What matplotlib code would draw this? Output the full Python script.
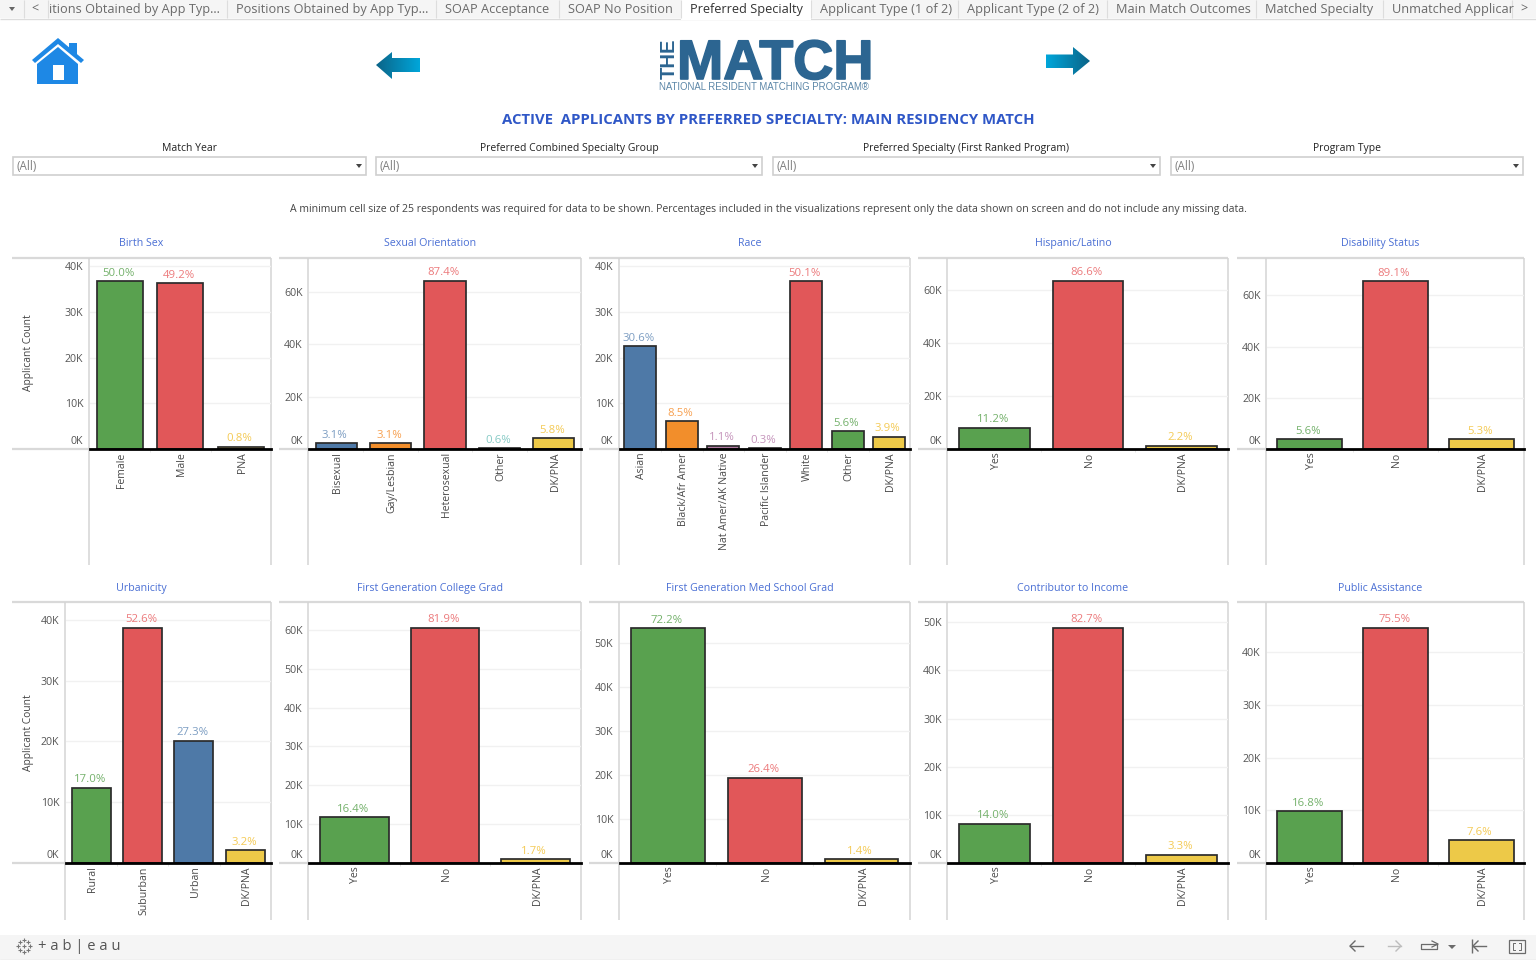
import matplotlib
matplotlib.use("Agg")
import matplotlib.pyplot as plt
import numpy as np
from matplotlib.patches import Polygon, Rectangle
from matplotlib.ticker import FuncFormatter, FixedLocator
from matplotlib.transforms import ScaledTranslation
import matplotlib.patheffects as pe

FONT = "Open Sans"
plt.rcParams["font.family"] = [FONT, "DejaVu Sans"]

W, H = 1536, 960
GREEN, RED, BLUE, ORANGE, YELLOW, PURPLE, TEAL = "#59a14f", "#e15759", "#4e79a7", "#f28e2b", "#edc948", "#b07aa1", "#76b7b2"
LABEL_TINT = {GREEN: "#74b16b", RED: "#ec7a7c", BLUE: "#7c9dc2", ORANGE: "#f7a050",
              YELLOW: "#f4ca55", PURPLE: "#c594bb", TEAL: "#86cac5"}

# ---------- data ----------
birth_cats = ["Female", "Male", "PNA"]
birth_vals = [36700, 36300, 500]
birth_pcts = ["50.0%", "49.2%", "0.8%"]
birth_cols = [GREEN, RED, YELLOW]

orient_cats = ["Bisexual", "Gay/Lesbian", "Heterosexual", "Other", "DK/PNA"]
orient_vals = [2150, 2150, 64300, 300, 4200]
orient_pcts = ["3.1%", "3.1%", "87.4%", "0.6%", "5.8%"]
orient_cols = [BLUE, ORANGE, RED, TEAL, YELLOW]

race_cats = ["Asian", "Black/Afr Amer", "Nat Amer/AK Native", "Pacific Islander", "White", "Other", "DK/PNA"]
race_vals = [22500, 6050, 700, 150, 36700, 3900, 2700]
race_pcts = ["30.6%", "8.5%", "1.1%", "0.3%", "50.1%", "5.6%", "3.9%"]
race_cols = [BLUE, ORANGE, PURPLE, PURPLE, RED, GREEN, YELLOW]

hisp_cats = ["Yes", "No", "DK/PNA"]
hisp_vals = [8070, 63600, 1300]
hisp_pcts = ["11.2%", "86.6%", "2.2%"]
yes_no_cols = [GREEN, RED, YELLOW]

disab_cats = ["Yes", "No", "DK/PNA"]
disab_vals = [3800, 65600, 3800]
disab_pcts = ["5.6%", "89.1%", "5.3%"]

urban_cats = ["Rural", "Suburban", "Urban", "DK/PNA"]
urban_vals = [12400, 38700, 20100, 2100]
urban_pcts = ["17.0%", "52.6%", "27.3%", "3.2%"]
urban_cols = [GREEN, RED, BLUE, YELLOW]

fgcol_cats = ["Yes", "No", "DK/PNA"]
fgcol_vals = [11800, 60500, 1000]
fgcol_pcts = ["16.4%", "81.9%", "1.7%"]

fgmed_cats = ["Yes", "No", "DK/PNA"]
fgmed_vals = [53300, 19400, 800]
fgmed_pcts = ["72.2%", "26.4%", "1.4%"]

contrib_cats = ["Yes", "No", "DK/PNA"]
contrib_vals = [8150, 48900, 1700]
contrib_pcts = ["14.0%", "82.7%", "3.3%"]

public_cats = ["Yes", "No", "DK/PNA"]
public_vals = [9800, 44600, 4300]
public_pcts = ["16.8%", "75.5%", "7.6%"]

tab_names = ["itions Obtained by App Typ...", "Positions Obtained by App Typ...", "SOAP Acceptance",
             "SOAP No Position", "Preferred Specialty", "Applicant Type (1 of 2)", "Applicant Type (2 of 2)",
             "Main Match Outcomes", "Matched Specialty", "Unmatched Applicar"]
filter_names = ["Match Year", "Preferred Combined Specialty Group",
                "Preferred Specialty (First Ranked Program)", "Program Type"]

# ---------- layout (pixels) ----------
def rect(x0, y0, x1, y1):
    return [x0 / W, 1 - y1 / H, (x1 - x0) / W, (y1 - y0) / H]

fig = plt.figure(figsize=(W / 100, H / 100), dpi=100, facecolor="white")
ui = fig.add_axes([0, 0, 1, 1], zorder=0)
ui.set_xlim(0, W); ui.set_ylim(H, 0); ui.axis("off")

def hl(x0, x1, y, c, lw=1.0): ui.plot([x0, x1], [y, y], color=c, lw=lw, solid_capstyle="butt")
def vl(x, y0, y1, c, lw=1.0): ui.plot([x, x], [y0, y1], color=c, lw=lw, solid_capstyle="butt")

# tab strip
ui.add_patch(Rectangle((0, 0), W, 18, fc="#f5f5f5", ec="none"))
hl(0, W, 18.5, "#dcdcdc", 1)
tab_seps = [23.5, 47.5, 227, 436, 559, 681, 811, 958, 1107, 1256, 1383, 1512]
ui.add_patch(Rectangle((681, 0), 130, 19.5, fc="white", ec="none", zorder=2))
for s in tab_seps:
    vl(s, 0, 18, "#dddddd", 0.8)
for i, name in enumerate(tab_names):
    x0 = tab_seps[i + 1]
    active = name == "Preferred Specialty"
    ui.text(x0 + (1.5 if i == 0 else 9), 9.7, name, fontsize=9.15, color="#333333" if active else "#6a6a6a",
            va="center", ha="left", zorder=3)
ui.text(35, 9, "<", fontsize=9, color="#666666", ha="center", va="center")
ui.text(1524, 9, ">", fontsize=9, color="#666666", ha="center", va="center")
ui.add_patch(Polygon([[9, 7], [15, 7], [12, 11]], fc="#666666", ec="none"))

# home icon
HOME = "#1e88e5"
ui.add_patch(Polygon([[69, 43], [77, 43], [77, 56], [69, 50]], fc=HOME, ec="none"))
ui.add_patch(Polygon([[58, 38], [84, 60], [81, 63], [58, 44], [35, 63], [32, 60]], fc=HOME, ec="none"))
ui.add_patch(Polygon([[58, 47], [78, 64], [78, 84], [37, 84], [37, 64]], fc=HOME, ec="none"))
ui.add_patch(Rectangle((52.5, 65), 11.5, 15, fc="white", ec="none"))

# arrows with gradient
def grad_arrow(pts, c0, c1):
    x0 = min(p[0] for p in pts); x1 = max(p[0] for p in pts)
    y0 = min(p[1] for p in pts); y1 = max(p[1] for p in pts)
    c0 = np.array(matplotlib.colors.to_rgb(c0)); c1 = np.array(matplotlib.colors.to_rgb(c1))
    g = np.linspace(0, 1, 64)[None, :, None]
    img = c0[None, None, :] * (1 - g) + c1[None, None, :] * g
    im = ui.imshow(img, extent=(x0, x1, y1, y0), aspect="auto", zorder=2)
    p = Polygon(pts, transform=ui.transData, fc="none", ec="none")
    ui.add_patch(p); im.set_clip_path(p)

grad_arrow([[376, 65], [392, 52], [392, 58], [420, 58], [420, 72], [392, 72], [392, 79]], "#0b6488", "#00a6da")
grad_arrow([[1090, 61], [1073, 47], [1073, 54.5], [1046, 54.5], [1046, 68], [1073, 68], [1073, 75]], "#00a6da", "#0b6488")
ui.set_xlim(0, W); ui.set_ylim(H, 0)

# logo
LOGO = "#2c6591"
t = ui.text(677, 79, "MATCH", fontsize=40, fontweight="bold", family="Liberation Sans", color=LOGO,
            ha="left", va="baseline")
t.set_path_effects([pe.withStroke(linewidth=1.2, foreground=LOGO)])
ui.text(669, 58.5, "THE", fontsize=14.5, fontweight="bold", family="Liberation Sans", color=LOGO, rotation=90,
        ha="center", va="center")
ui.text(659, 86.5, "NATIONAL RESIDENT MATCHING PROGRAM®", fontsize=6.9, family="Liberation Sans",
        color="#5c87a8", ha="left", va="center")

# heading
ui.text(768.5, 120.3, "ACTIVE  APPLICANTS BY PREFERRED SPECIALTY: MAIN RESIDENCY MATCH", fontsize=10.7,
        fontweight="bold", color="#2f57c7", ha="center", va="center")

# filters
filter_x0 = [13, 376, 773, 1171]
filter_x1 = [366, 762, 1160, 1523]
filter_lab = [189, 569, 966, 1347]
for a, b, c, name in zip(filter_x0, filter_x1, filter_lab, filter_names):
    ui.text(c, 151, name, fontsize=7.5, color="#222222", ha="center", va="baseline")
    ui.add_patch(Rectangle((a, 157), b - a, 18, fc="white", ec="#cfcfcf", lw=1.2))
    ui.text(a + 3.5, 167, "(All)", fontsize=8.4, color="#808080", ha="left", va="center")
    ui.add_patch(Polygon([[b - 10, 164], [b - 4, 164], [b - 7, 168]], fc="#444444", ec="none"))

ui.text(768, 209.5, "A minimum cell size of 25 respondents was required for data to be shown. Percentages included in the "
        "visualizations represent only the data shown on screen and do not include any missing data.",
        fontsize=7.6, color="#444444", ha="center", va="center")

# ---------- panels ----------
ROW1 = dict(top=258, base=449, bottom=565, title_y=246)
ROW2 = dict(top=601.5, base=863, bottom=920, title_y=591)
panels = [
    ("Birth Sex", birth_cats, birth_vals, birth_pcts, birth_cols, 12, 88.5, 271, ROW1, 41800, 10000, 353),
    ("Sexual Orientation", orient_cats, orient_vals, orient_pcts, orient_cols, 279, 308, 581, ROW1, 73100, 20000, None),
    ("Race", race_cats, race_vals, race_pcts, race_cols, 589, 618.5, 910, ROW1, 41800, 10000, None),
    ("Hispanic/Latino", hisp_cats, hisp_vals, hisp_pcts, yes_no_cols, 918, 947, 1228, ROW1, 72300, 20000, None),
    ("Disability Status", disab_cats, disab_vals, disab_pcts, yes_no_cols, 1237, 1266, 1524, ROW1, 74600, 20000, None),
    ("Urbanicity", urban_cats, urban_vals, urban_pcts, urban_cols, 12, 64.5, 271, ROW2, 43000, 10000, 733),
    ("First Generation College Grad", fgcol_cats, fgcol_vals, fgcol_pcts, yes_no_cols, 279, 308, 581, ROW2, 67300, 10000, None),
    ("First Generation Med School Grad", fgmed_cats, fgmed_vals, fgmed_pcts, yes_no_cols, 589, 618.5, 910, ROW2, 59400, 10000, None),
    ("Contributor to Income", contrib_cats, contrib_vals, contrib_pcts, yes_no_cols, 918, 947, 1228, ROW2, 54300, 10000, None),
    ("Public Assistance", public_cats, public_vals, public_pcts, yes_no_cols, 1237, 1266, 1524, ROW2, 49600, 10000, None),
]

for title, cats, vals, pcts, cols, fx0, ax0, fx1, row, ymax, step, ylab_y in panels:
    top, base, bottom = row["top"], row["base"], row["bottom"]
    # frame in pixels
    hl(fx0, fx1, top, "#d9d9d9", 1.6)
    hl(fx0, ax0, base, "#d9d9d9", 1.6)
    vl(ax0, top, bottom, "#d4d4d4", 1.1)
    vl(fx1, top, bottom, "#d4d4d4", 1.1)
    ui.text((fx0 + fx1) / 2, row["title_y"], title, fontsize=7.7, color="#4a6fd4", ha="center", va="baseline")
    if ylab_y:
        ui.text(28, ylab_y, "Applicant Count", fontsize=7.35, color="#444444", rotation=90, ha="center", va="center")

    ax = fig.add_axes(rect(ax0 + 1, top, fx1, base), zorder=2, facecolor="none")
    n = len(cats)
    x = np.arange(n)
    ax.set_xlim(-0.5, n - 0.5)
    ax.set_ylim(0, ymax)
    for s in ("top", "right", "left"):
        ax.spines[s].set_visible(False)
    ax.spines["bottom"].set_color("black")
    ax.spines["bottom"].set_linewidth(2.0)
    ax.spines["bottom"].set_zorder(5)

    ticks = np.arange(0, ymax, step)
    ax.yaxis.set_major_locator(FixedLocator(ticks))
    ax.yaxis.set_major_formatter(FuncFormatter(lambda v, _: f"{v / 1000:.0f}K"))
    ax.tick_params(axis="y", length=0, pad=4.5, labelsize=7.7, labelcolor="#555555")
    ax.grid(axis="y", color="#f1f1f1", lw=1.0, zorder=0)
    ax.set_axisbelow(True)

    ax.set_xticks(x, cats, rotation=90, fontsize=7.6, color="#4a4a4a")
    ax.tick_params(axis="x", length=0, pad=2.4)
    ax.set_xticks(np.arange(0.5, n - 1), minor=True)
    ax.tick_params(axis="x", which="minor", length=2, width=0.7, color="#e6e6e6")
    nudge = ScaledTranslation(1.5 / 100, 0, fig.dpi_scale_trans)
    for lab in ax.get_xticklabels():
        lab.set_transform(lab.get_transform() + nudge)

    # the 0K label sits above the baseline, as in the dashboard
    shift = ScaledTranslation(0, 9 / 100, fig.dpi_scale_trans)
    zero = ax.yaxis.get_major_ticks()[0].label1
    zero.set_transform(zero.get_transform() + shift)

    ax.bar(x, vals, width=0.76, color=cols, edgecolor="#2b2b2b", linewidth=1.25, zorder=3)
    for xi, v, p, c in zip(x, vals, pcts, cols):
        ax.annotate(p, (xi, v), xytext=(-1, 1.8), textcoords="offset points", ha="center", va="bottom",
                    fontsize=8.2, color=LABEL_TINT[c], zorder=4, annotation_clip=False)

# footer
ui.add_patch(Rectangle((0, 935), W, 25, fc="#f5f5f5", ec="none"))
hl(0, W, 959.5, "#dddddd", 1)
FOOT = "#6b6b6b"
ui.text(38, 947, "+ a b | e a u", fontsize=10.6, color="#555555", ha="left", va="center")
for dx, dy in [(0, -6), (0, 6), (-6, 0), (6, 0), (-4, -4), (4, 4), (-4, 4), (4, -4), (0, 0)]:
    ui.plot(24 + dx, 946 + dy, marker="+", ms=3.5, mew=0.8, color="#777777")

def arr(x0, x1, c):
    ui.plot([x0, x1], [946, 946], color=c, lw=1)
    s = 5 if x1 > x0 else -5
    ui.plot([x1 - s, x1, x1 - s], [941, 946, 951], color=c, lw=1)
arr(1363, 1350, FOOT)
arr(1388, 1401, "#bdbdbd")
ui.plot([1432, 1438, 1432], [941, 944, 947], color=FOOT, lw=0.9)
ui.plot([1437, 1421, 1421, 1437, 1437], [944, 944, 949, 949, 944], color=FOOT, lw=0.9)
ui.add_patch(Polygon([[1448, 945], [1456, 945], [1452, 949]], fc=FOOT, ec="none"))
arr(1486, 1473, FOOT)
vl(1472, 939, 953, FOOT, 1)
ui.add_patch(Rectangle((1509, 940), 16, 13, fc="none", ec=FOOT, lw=0.9))
ui.plot([1513, 1513, 1515], [946, 943, 943], color=FOOT, lw=0.7)
ui.plot([1519, 1521, 1521], [943, 943, 946], color=FOOT, lw=0.7)
ui.plot([1513, 1513, 1515], [947, 950, 950], color=FOOT, lw=0.7)
ui.plot([1519, 1521, 1521], [950, 950, 947], color=FOOT, lw=0.7)

fig.savefig("out.png", dpi=100)
